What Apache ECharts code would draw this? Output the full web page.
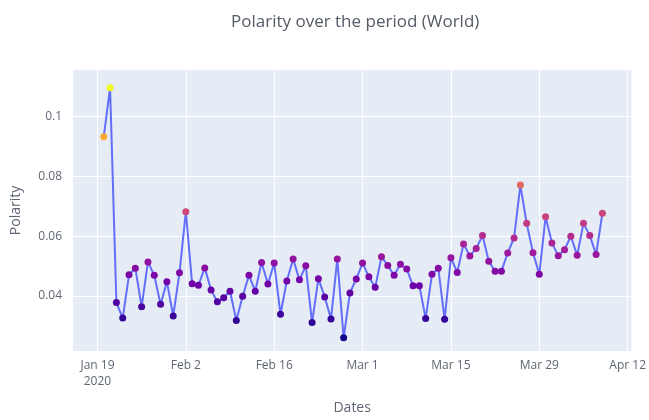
<!DOCTYPE html>
<html>
<head>
<meta charset="utf-8">
<script src="https://cdn.jsdelivr.net/npm/echarts@6/dist/echarts.min.js"></script>
<style>
  html, body { margin: 0; padding: 0; background: #fff; }
  #chart { width: 649px; height: 420px; }
</style>
</head>
<body>
<div id="chart"></div>
<script>
// daily polarity, world
var dates = [
	'2020-01-20', '2020-01-21', '2020-01-22', '2020-01-23', '2020-01-24', '2020-01-25', '2020-01-26',
	'2020-01-27', '2020-01-28', '2020-01-29', '2020-01-30', '2020-01-31', '2020-02-01', '2020-02-02',
	'2020-02-03', '2020-02-04', '2020-02-05', '2020-02-06', '2020-02-07', '2020-02-08', '2020-02-09',
	'2020-02-10', '2020-02-11', '2020-02-12', '2020-02-13', '2020-02-14', '2020-02-15', '2020-02-16',
	'2020-02-17', '2020-02-18', '2020-02-19', '2020-02-20', '2020-02-21', '2020-02-22', '2020-02-23',
	'2020-02-24', '2020-02-25', '2020-02-26', '2020-02-27', '2020-02-28', '2020-02-29', '2020-03-01',
	'2020-03-02', '2020-03-03', '2020-03-04', '2020-03-05', '2020-03-06', '2020-03-07', '2020-03-08',
	'2020-03-09', '2020-03-10', '2020-03-11', '2020-03-12', '2020-03-13', '2020-03-14', '2020-03-15',
	'2020-03-16', '2020-03-17', '2020-03-18', '2020-03-19', '2020-03-20', '2020-03-21', '2020-03-22',
	'2020-03-23', '2020-03-24', '2020-03-25', '2020-03-26', '2020-03-27', '2020-03-28', '2020-03-29',
	'2020-03-30', '2020-03-31', '2020-04-01', '2020-04-02', '2020-04-03', '2020-04-04', '2020-04-05',
	'2020-04-06', '2020-04-07', '2020-04-08'
];
var polarity = [
	0.0933, 0.1097, 0.0378, 0.0326, 0.0471, 0.0493, 0.0364,
	0.0514, 0.0469, 0.0372, 0.0448, 0.0333, 0.0478, 0.0682,
	0.0441, 0.0436, 0.0494, 0.0420, 0.0381, 0.0394, 0.0416,
	0.0318, 0.0399, 0.0469, 0.0416, 0.0512, 0.0440, 0.0510,
	0.0339, 0.0450, 0.0524, 0.0454, 0.0501, 0.0311, 0.0458,
	0.0397, 0.0323, 0.0524, 0.0260, 0.0410, 0.0457, 0.0510,
	0.0464, 0.0429, 0.0531, 0.0502, 0.0469, 0.0506, 0.0490,
	0.0434, 0.0434, 0.0325, 0.0473, 0.0493, 0.0322, 0.0528,
	0.0479, 0.0574, 0.0534, 0.0559, 0.0602, 0.0516, 0.0483,
	0.0483, 0.0544, 0.0594, 0.0771, 0.0643, 0.0545, 0.0473,
	0.0665, 0.0577, 0.0535, 0.0555, 0.0600, 0.0536, 0.0643,
	0.0602, 0.0539, 0.0677
];
var xTicks = ['2020-01-19', '2020-02-02', '2020-02-16', '2020-03-01', '2020-03-15', '2020-03-29', '2020-04-12'];
var yTicks = [0.04, 0.06, 0.08, 0.1];

var monthNames = ['Jan', 'Feb', 'Mar', 'Apr', 'May', 'Jun', 'Jul', 'Aug', 'Sep', 'Oct', 'Nov', 'Dec'];
var plasma = ['#0d0887', '#46039f', '#7201a8', '#9c179e', '#bd3786', '#d8576b', '#ed7953', '#fb9f3a', '#fdca26', '#f0f921'];

function toTime(s) {
	return +echarts.time.parse(s);
}

var points = [];
for (var i in dates) {
	points.push([toTime(dates[i]), polarity[i]]);
}
var xTickValues = [];
for (var k in xTicks) {
	xTickValues.push(toTime(xTicks[k]));
}
var firstTick = xTickValues[0];

var textColor = '#5f6673';
var font = '"Open Sans", sans-serif';

var myChart = echarts.init(document.getElementById('chart'));

var option = {
	backgroundColor : '#fff',
	animation : false,
	title : {
		text : 'Polarity over the period (World)',
		left : 226,
		top : 9,
		textStyle : {
			fontFamily : font,
			fontSize : 17,
			fontWeight : 'normal',
			color : '#555b66'
		}
	},
	grid : {
		left : 73,
		top : 70,
		right : 15,
		bottom : 68,
		show : true,
		backgroundColor : '#e5ecf6',
		borderWidth : 0
	},
	visualMap : {
		show : false,
		type : 'continuous',
		seriesIndex : 1,
		dimension : 1,
		min : Math.min.apply(null, polarity),
		max : Math.max.apply(null, polarity),
		inRange : { color : plasma }
	},
	xAxis : {
		type : 'value',
		min : toTime('2020-01-15 03:00'),
		max : toTime('2020-04-12 14:00'),
		name : 'Dates',
		nameLocation : 'middle',
		nameGap : 50,
		nameTextStyle : { fontFamily : font, fontSize : 14, color : textColor },
		axisLine : { show : false },
		axisTick : { show : false, customValues : xTickValues },
		splitLine : { show : true, lineStyle : { color : '#fff', width : 1 } },
		axisLabel : {
			customValues : xTickValues,
			margin : 7,
			fontFamily : font,
			fontSize : 12,
			lineHeight : 16,
			color : textColor,
			formatter : function (value) {
				var d = new Date(value);
				var s = monthNames[d.getMonth()] + ' ' + d.getDate();
				if (Math.abs(value - firstTick) < 3600000) {
					s += '\n' + d.getFullYear();
				}
				return s;
			}
		}
	},
	yAxis : {
		type : 'value',
		min : 0.0216,
		max : 0.1156,
		name : 'Polarity',
		nameLocation : 'middle',
		nameGap : 50,
		nameTextStyle : { fontFamily : font, fontSize : 14, color : textColor },
		axisLine : { show : false },
		axisTick : { show : false, customValues : yTicks },
		splitLine : { show : true, lineStyle : { color : '#fff', width : 1 } },
		axisLabel : {
			customValues : yTicks,
			margin : 11,
			fontFamily : font,
			fontSize : 12,
			color : textColor
		}
	},
	series : [ {
		name : 'line',
		type : 'line',
		data : points,
		showSymbol : false,
		lineStyle : { color : '#636efa', width : 2 },
		z : 2
	}, {
		name : 'markers',
		type : 'scatter',
		data : points,
		symbolSize : 7,
		itemStyle : { opacity : 1 },
		z : 3
	} ]
};

myChart.setOption(option);
</script>
</body>
</html>
